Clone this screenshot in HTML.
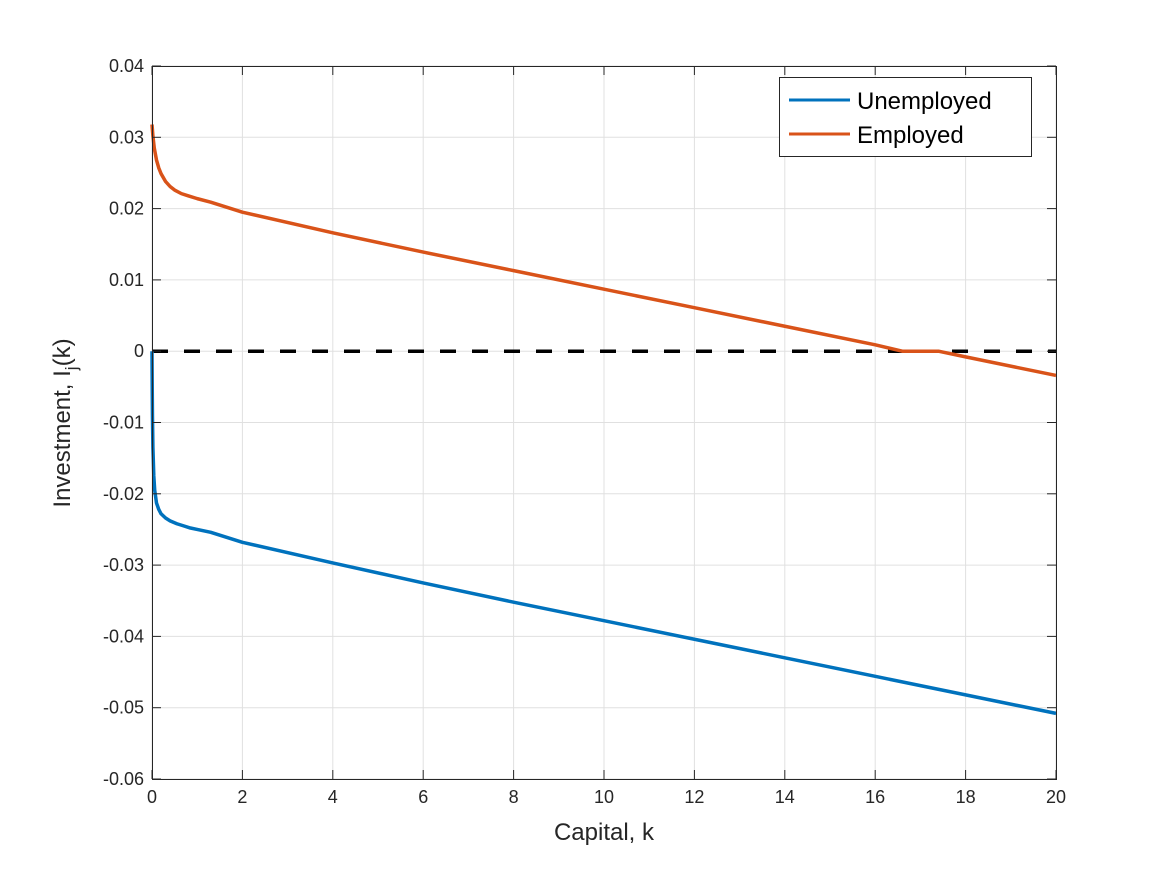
<!DOCTYPE html>
<html><head><meta charset="utf-8"><style>
body{margin:0;background:#fff}
svg text{font-family:"Liberation Sans",Arial,sans-serif;fill:#262626}
</style></head><body>
<svg id="chart" width="1167" height="875" xmlns="http://www.w3.org/2000/svg">
<rect width="1167" height="875" fill="#fff"/>
<g id="grid"></g>
<g id="marks"></g>
<g id="axes"></g>
<text x="604" y="840" font-size="24" text-anchor="middle">Capital, k</text>
<text transform="translate(70,423) rotate(-90)" font-size="24" text-anchor="middle">Investment, I<tspan font-size="17" dy="7">j</tspan><tspan dy="-7">(k)</tspan></text>
<g>
<rect x="779.5" y="77.5" width="252" height="79" fill="#fff" stroke="#262626" stroke-width="1"/>
<line x1="789" y1="100" x2="850" y2="100" stroke="#0072BD" stroke-width="3"/>
<text x="857" y="109" font-size="24" style="fill:#000">Unemployed</text>
<line x1="789" y1="134" x2="850" y2="134" stroke="#D95319" stroke-width="3"/>
<text x="857" y="143" font-size="24" style="fill:#000">Employed</text>
</g>
</svg>
<script>
const xTicks=[0,2,4,6,8,10,12,14,16,18,20];
const yTicks=[0.04,0.03,0.02,0.01,0,-0.01,-0.02,-0.03,-0.04,-0.05,-0.06];
const yTickLabels=["0.04","0.03","0.02","0.01","0","-0.01","-0.02","-0.03","-0.04","-0.05","-0.06"];
const kEmp=[0,0.02,0.05,0.1,0.15,0.2,0.3,0.4,0.5,0.65,0.8,1,1.3,2,4,6,8,10,12,14,16,16.6,17.4,18,20];
const iEmp=[0.0318,0.0302,0.0285,0.0268,0.0257,0.0249,0.0238,0.0231,0.0226,0.0221,0.0218,0.0214,0.0209,0.0195,0.0166,0.0139,0.0113,0.0087,0.0061,0.0035,0.0009,0,0,-0.0008,-0.0034];
const kUnemp=[0,0.005,0.01,0.02,0.04,0.06,0.1,0.15,0.2,0.3,0.4,0.55,0.7,0.85,1,1.3,2,4,6,8,10,12,14,16,18,20];
const iUnemp=[0,-0.005,-0.009,-0.0135,-0.0175,-0.0195,-0.0213,-0.0222,-0.0228,-0.0234,-0.0238,-0.0242,-0.0245,-0.0248,-0.0250,-0.0254,-0.0268,-0.0297,-0.0325,-0.0352,-0.0378,-0.0404,-0.0430,-0.0456,-0.0482,-0.0508];
const X0=152,X1=1056,Y0=66,Y1=779;
const sx=v=>X0+(v-0)/(20-0)*(X1-X0);
const sy=v=>Y1-(v-(-0.06))/(0.1)*(Y1-Y0);
const NS="http://www.w3.org/2000/svg";
const grid=document.getElementById('grid'),axes=document.getElementById('axes'),marks=document.getElementById('marks');
function mk(tag,attrs,parent){const e=document.createElementNS(NS,tag);for(const k in attrs)e.setAttribute(k,attrs[k]);parent.appendChild(e);return e;}
xTicks.forEach(t=>{
  const x=sx(t);
  const g=mk('line',{x1:x,y1:Y0,x2:x,y2:Y1,stroke:'#e0e0e0','stroke-width':1},grid);
  
  
  const a=mk('line',{x1:x,y1:Y1,x2:x,y2:Y1-9,stroke:'#262626'},axes);
  
  
  const b=mk('line',{x1:x,y1:Y0,x2:x,y2:Y0+9,stroke:'#262626'},axes);
  
  
  const l=mk('text',{x:x,y:Y1+24,'font-size':18,'text-anchor':'middle'},axes);
  l.textContent=String(t);
  
  
});
yTicks.forEach((t,i)=>{
  const y=sy(t);
  const g=mk('line',{x1:X0,y1:y,x2:X1,y2:y,stroke:'#e0e0e0','stroke-width':1},grid);
  
  
  const a=mk('line',{x1:X0,y1:y,x2:X0+9,y2:y,stroke:'#262626'},axes);
  
  
  const b=mk('line',{x1:X1,y1:y,x2:X1-9,y2:y,stroke:'#262626'},axes);
  
  
  const l=mk('text',{x:X0-8,y:y+6,'font-size':18,'text-anchor':'end'},axes);
  l.textContent=yTickLabels[i];
  
  
});
const box=mk('rect',{x:X0+0.5,y:Y0+0.5,width:X1-X0,height:Y1-Y0,fill:'none',stroke:'#262626','stroke-width':1},axes);


const zero=mk('line',{x1:X0,y1:sy(0),x2:X1,y2:sy(0),stroke:'#000','stroke-width':3.5,'stroke-dasharray':'16 16'},marks);


function path(ks,vs,color,name){
  const d=ks.map((k,i)=>(i?'L':'M')+sx(k).toFixed(2)+','+sy(vs[i]).toFixed(2)).join(' ');
  const p=mk('path',{d:d,fill:'none',stroke:color,'stroke-width':3.5,'stroke-linejoin':'round'},marks);
  
  
}
path(kUnemp,iUnemp,'#0072BD','unemployed-line');
path(kEmp,iEmp,'#D95319','employed-line');
</script>
</body></html>
